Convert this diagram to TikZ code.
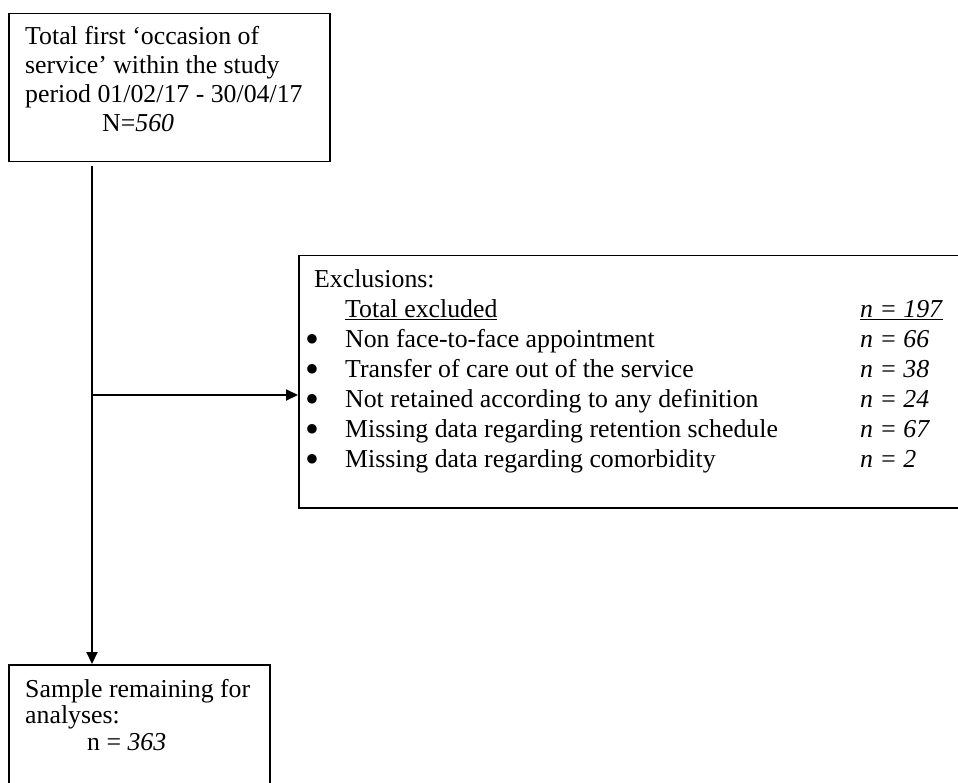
\documentclass[tikz,border=0pt]{standalone}
\usepackage{fontspec}
\setmainfont{Liberation Serif}
\newfontfamily\dejavu{DejaVu Sans}
\usetikzlibrary{arrows.meta,calc}
\newcommand{\bigbul}{{\dejavu\fontsize{12.5}{13}\selectfont\hspace{1.5pt}\raisebox{5.5pt}{●}}}
\begin{document}
\begin{tikzpicture}[x=1pt,y=-1pt,
  box/.style={draw=black, line width=1.5pt, inner sep=0pt, anchor=north west},
  txt/.style={anchor=base west, inner sep=0pt},
  conn/.style={line width=2pt, -{Triangle[length=12pt,width=11pt]}},
  ]
\useasboundingbox (0,0) rectangle (958,783);
% boxes
\node[box, minimum width=321pt, minimum height=148pt] (top) at (8,13) {};
\node[box, minimum width=664pt, minimum height=252pt] (excl) at (298,255) {};
\node[box, minimum width=261pt, minimum height=130pt] (bot) at (8,664) {};
% texts
\node[txt, font=\fontsize{25.8}{29}\selectfont] (toptxt) at (25,45)
  {\begin{tabular}[t]{@{}l@{}}Total first ‘occasion of\\ service’ within the study\\ period 01/02/17 - 30/04/17\\ \hspace{77pt}N=\textit{560}\end{tabular}};
\node[txt, font=\fontsize{25.8}{30}\selectfont] (excltxt) at (305,288)
  {\begin{tabular}[t]{@{}p{40pt}@{}p{515pt}@{}l@{}}
   \multicolumn{3}{@{\hspace{9pt}}l@{}}{Exclusions:}\\
   & \underline{Total excluded} & \underline{\textit{n = 197}}\\
   \bigbul & Non face-to-face appointment & \textit{n = 66}\\
   \bigbul & Transfer of care out of the service & \textit{n = 38}\\
   \bigbul & Not retained according to any definition & \textit{n = 24}\\
   \bigbul & Missing data regarding retention schedule & \textit{n = 67}\\
   \bigbul & Missing data regarding comorbidity & \textit{n = 2}
   \end{tabular}};
\node[txt, font=\fontsize{25.8}{26.5}\selectfont] (bottxt) at (25,697)
  {\begin{tabular}[t]{@{}l@{}}Sample remaining for\\ analyses:\\ \hspace{62pt}n = \textit{363}\end{tabular}};
% connectors
\coordinate (vs) at (92,166);
\coordinate (jn) at (92,395);
\draw[conn] (vs) -- (vs |- bot.north);
\draw[conn] (jn) -- (jn -| excl.west);
\end{tikzpicture}
\end{document}
